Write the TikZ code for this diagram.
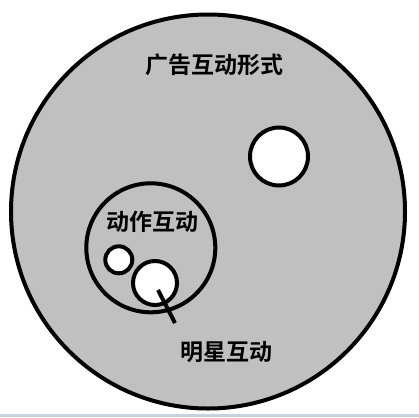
\documentclass[tikz,border=0pt]{standalone}
\usepackage{fontspec}
\newfontfamily\cjk{Noto Sans CJK SC Bold}
\definecolor{silverfill}{HTML}{C0C0C0}
\definecolor{stripcol}{HTML}{C8D2DC}
\begin{document}
\begin{tikzpicture}[x=1pt,y=-1pt,
  ring/.style={circle,draw=black,line width=4pt,inner sep=0pt},
  hole/.style={ring,fill=white},
  lbl/.style={font=\cjk\fontsize{23}{26}\selectfont,inner sep=0pt}]
\useasboundingbox (0,0) rectangle (419,417);
\fill[white] (0,0) rectangle (419,417);
\fill[stripcol] (0,414) rectangle (419,417);
\node[ring,fill=silverfill,minimum size=394pt] (outer) at (208,211.5) {};
\node[hole,minimum size=58pt] (hole1) at (279,156.5) {};
\node[ring,minimum size=129pt] (action) at (150.8,247.8) {};
\node[hole,minimum size=27pt] (hole2) at (118.8,259.8) {};
\node[hole,minimum size=44pt] (star) at (155,283) {};
\coordinate (tipA) at (158,290);
\coordinate (tipB) at (175,323);
\draw[line width=4pt] (tipA) -- (tipB);
\node[lbl] (t1) at (214.3,64.5) {广告互动形式};
\node[lbl] (t2) at (152.5,222) {动作互动};
\node[lbl] (t3) at (226.3,352) {明星互动};
\end{tikzpicture}
\end{document}
